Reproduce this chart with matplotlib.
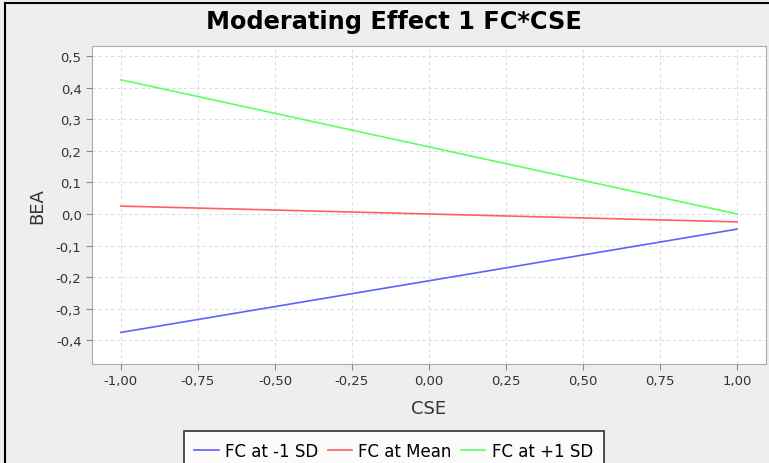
import numpy as np
import matplotlib.pyplot as plt
from matplotlib.ticker import FuncFormatter
from matplotlib.lines import Line2D

# data
cse = [-1.0, 1.0]
fc_low = [-0.375, -0.048]
fc_mean = [0.025, -0.025]
fc_high = [0.425, 0.0]
labels = ["FC at -1 SD", "FC at Mean", "FC at +1 SD"]
colors = ["#6060ff", "#ff6060", "#60ff60"]

fig = plt.figure(figsize=(7.69, 4.64), dpi=100)
fig.patch.set_facecolor("#eeeeee")

ax = fig.add_axes([0.1196, 0.2134, 0.8765, 0.6853])
ax.set_facecolor("white")

for ys, lab, c in zip([fc_low, fc_mean, fc_high], labels, colors):
    ax.plot(cse, ys, color=c, lw=1.2, label=lab)

ax.set_xlim(-1.094, 1.094)
ax.set_ylim(-0.475, 0.532)
ax.set_xticks(np.arange(-1.0, 1.01, 0.25))
ax.set_yticks(np.arange(-0.4, 0.51, 0.1))

ax.xaxis.set_major_formatter(FuncFormatter(lambda v, p: f"{v:.2f}".replace(".", ",").replace("-0,00", "0,00")))
ax.yaxis.set_major_formatter(FuncFormatter(lambda v, p: f"{v:.1f}".replace(".", ",").replace("-0,0", "0,0")))

ax.grid(True, color="#dddddd", linestyle=(0, (3, 2.5)), lw=0.8)
for s in ax.spines.values():
    s.set_color("#aaaaaa")
ax.tick_params(colors="#888888", labelcolor="#333333", labelsize=9.5, length=4)

ax.set_xlabel("CSE", fontsize=13, color="#333333", labelpad=8)
ax.set_ylabel("BEA", fontsize=13, color="#333333", labelpad=7)

fig.text(0.512, 0.953, "Moderating Effect 1 FC*CSE", ha="center", va="center",
         fontsize=17.3, fontweight="bold")

leg = fig.legend(loc="upper center", bbox_to_anchor=(0.512, 0.069), ncol=3,
                 fontsize=12, frameon=True, fancybox=False, handlelength=1.45,
                 handletextpad=0.4, columnspacing=0.55, borderpad=0.65,
                 borderaxespad=0)
leg.get_frame().set_edgecolor("black")
leg.get_frame().set_linewidth(1.2)

# outer border
fig.add_artist(Line2D([0.006, 0.006], [0, 0.992], color="black", lw=1.5, transform=fig.transFigure))
fig.add_artist(Line2D([0.006, 1], [0.992, 0.992], color="black", lw=1.5, transform=fig.transFigure))

fig.savefig("out.png", dpi=100)
